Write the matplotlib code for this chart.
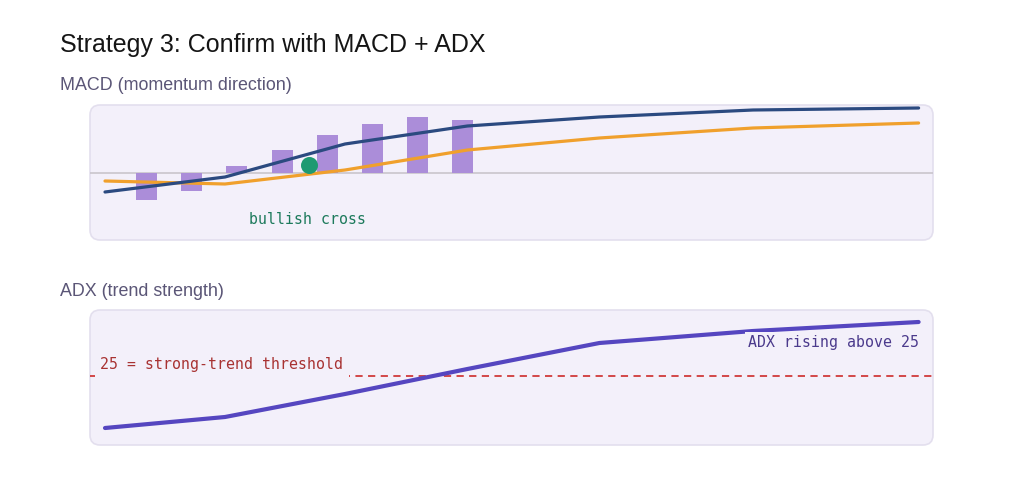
import matplotlib.pyplot as plt
from matplotlib.patches import FancyBboxPatch

# data (x in time units, shared by both panels)
t = [0, 10, 20, 30.2, 41.2, 54, 67.8]
macd = [-0.475, -0.1, 0.725, 1.175, 1.4, 1.575, 1.625]
signal = [-0.2, -0.275, 0.075, 0.575, 0.875, 1.125, 1.25]
hist_t = [3.42, 7.17, 10.92, 14.75, 18.5, 22.25, 26.0, 29.75]
hist = [-0.675, -0.45, 0.175, 0.575, 0.95, 1.225, 1.4, 1.325]
cross_t, cross_v = 17.0, 0.2
adx = [12, 14.75, 20.5, 26.75, 33.25, 36.25, 38.5]
threshold = 25

W, H = 1024, 482
fig = plt.figure(figsize=(W / 100, H / 100), dpi=100)
fig.patch.set_facecolor("white")
plt.rcParams["font.family"] = ["Liberation Sans", "DejaVu Sans"]

panel_bg = "#f3f0fa"
panel_edge = "#e3dfee"
mono = "DejaVu Sans Mono"


def panel(top_px, bottom_px):
    left, right = 90, 933
    ax = fig.add_axes([left / W, 1 - bottom_px / H, (right - left) / W, (bottom_px - top_px) / H])
    ax.set_facecolor("none")
    for s in ax.spines.values():
        s.set_visible(False)
    ax.set_xticks([])
    ax.set_yticks([])
    w_px, h_px = right - left, bottom_px - top_px
    box = FancyBboxPatch((0, 0), 1, 1, boxstyle="round,pad=0,rounding_size=%f" % (10 / w_px),
                         mutation_aspect=w_px / h_px, transform=ax.transAxes,
                         facecolor=panel_bg, edgecolor=panel_edge, lw=1.2, zorder=0, clip_on=False)
    ax.add_patch(box)
    ax.set_xlim(-1.25, 69)
    return ax


fig.text(60 / W, 1 - 45 / H, "Strategy 3: Confirm with MACD + ADX", fontsize=18,
         color="#151515", va="center", ha="left")
fig.text(60 / W, 1 - 85 / H, "MACD (momentum direction)", fontsize=12.9,
         color="#5b5677", va="center", ha="left")
fig.text(60 / W, 1 - 292 / H, "ADX (trend strength)", fontsize=12.9,
         color="#5b5677", va="center", ha="left")

# MACD panel
ax1 = panel(105, 240)
ax1.set_ylim(-1.675, 1.7)
ax1.axhline(0, color="#c9c5cc", lw=1.2, zorder=1)
ax1.bar(hist_t, hist, width=1.75, color="#ab8dd9", zorder=2)
ax1.plot(t, signal, color="#f0a02c", lw=2.3, zorder=3, solid_capstyle="round")
ax1.plot(t, macd, color="#2b4a80", lw=2.3, zorder=4, solid_capstyle="round")
ax1.scatter([cross_t], [cross_v], s=150, color="#1f9a72", zorder=5, linewidths=0)
ax1.text(16.9, -1.175, "bullish cross", family=mono, fontsize=10.7,
         color="#1d7a5c", ha="center", va="center")

# ADX panel
ax2 = panel(310, 445)
ax2.set_ylim(7.75, 41.5)
ax2.axhline(threshold, color="#d03a3a", lw=1.3, ls=(0, (4, 3)), zorder=1)
ax2.plot(t, adx, color="#5546c0", lw=3, zorder=3, solid_capstyle="round")
ax2.text(-0.4, threshold + 2.75, "25 = strong-trend threshold", family=mono, fontsize=10.7,
         color="#a83232", ha="left", va="center", zorder=2,
         bbox=dict(facecolor=panel_bg, edgecolor="none", pad=4))
ax2.text(67.8, 33.5, "ADX rising above 25", family=mono, fontsize=10.7,
         color="#4b3a8c", ha="right", va="center", zorder=4,
         bbox=dict(facecolor=panel_bg, edgecolor="none", pad=2))

fig.savefig("out.png", dpi=100)
